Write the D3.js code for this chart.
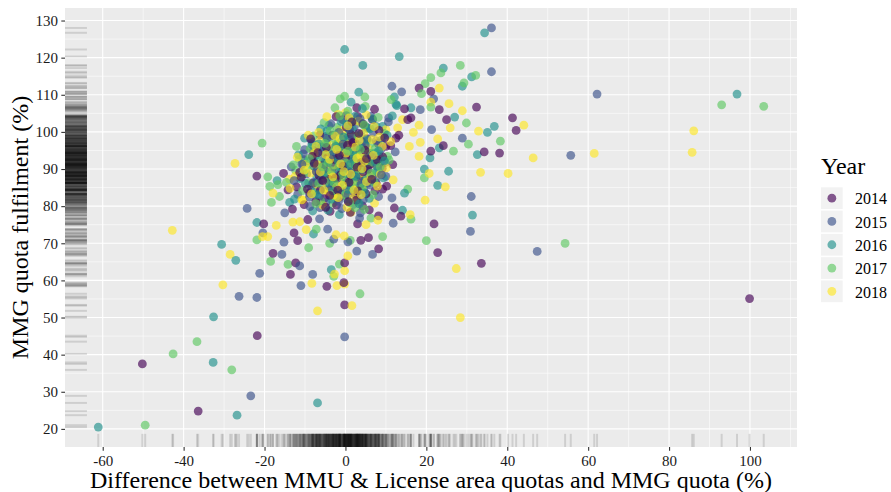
<!DOCTYPE html>
<html><head><meta charset="utf-8">
<script src="https://cdn.jsdelivr.net/npm/d3@7"></script>
<style>body{margin:0;background:#fff} svg{display:block} text{font-family:"Liberation Serif","Times New Roman",serif}</style>
</head><body><svg id="c" width="891" height="492"></svg>
<script>
const years = ["2014","2015","2016","2017","2018"];
const colors = ["#440154","#3B528B","#21908C","#5DC863","#FDE725"];
const xTicks = [-60,-40,-20,0,20,40,60,80,100];
const yTicks = [20,30,40,50,60,70,80,90,100,110,120,130];
const xMinor = [-50,-30,-10,10,30,50,70,90,110];
const yMinor = [25,35,45,55,65,75,85,95,105,115,125];

const pts2014 = [[-50.2,37.5],[-36.4,24.8],[-21.8,45.1],[-21.9,88.1],[-20.2,75.2],[-12.7,72.8],[-11.8,70.7],[-17.9,67.3],[-12.3,64.7],[-13.6,61.6],[-4.6,58.4],[-0.4,59.4],[-0.2,64.7],[-0.2,53.4],[8.2,68.5],[3.8,70.8],[5.7,71.5],[8.2,77.4],[3,75.2],[12.1,79.5],[9.2,84.6],[5.9,79],[-3.8,78.6],[-8.9,83.5],[-14.2,84.4],[-15.3,88.8],[-7.9,95],[2.8,106.5],[3,104.2],[6.7,103.3],[1,100.6],[-0.7,103.3],[8,97],[10,96.1],[12.5,98.3],[11.7,91.2],[1,94.3],[-3.5,87.1],[2.6,88],[7.6,86.2],[18.2,111.8],[21.1,110.9],[23.2,106],[32.4,106.7],[14.6,106.2],[25,103.3],[16.2,103.8],[15.4,103.3],[41.3,103.8],[42.2,100.4],[24.2,96.3],[21.1,94.8],[34.3,94.6],[38.1,94.3],[21.9,75.2],[22.8,67.5],[33.6,64.6],[13.7,77.3],[99.9,55.1],
[-8,86.3],[-5.2,82.1],[-3.1,90.4],[0.3,84.2],[2.1,92.3],[4.2,80.1],[-1.1,96.2],[6.2,94.1],[-6.3,99.2],[3.4,87.3],[-10.2,80.4],[-12.1,85.2],[1.2,78.3],[7.3,84.1],[9.1,90.2],[-4.4,93.1],[-2.2,80.3],[5.3,98.2],[-7.1,89.4],[0.2,101.3],[2.4,83.2],[-9.3,76.4],[11.2,96.3],[-3.3,85.1],[4.4,89.2],[8.3,100.4],[-5.4,91.1],[1.3,88.2],[-1.4,82.4],[3.2,95.4],[6.1,91.3],[-11.3,89.1],[10.2,85.4],[-2.3,104.1],[-6.2,84.3],[0.1,93.2],[13.2,99.1],[-4.1,87.2],[2.2,97.4],[5.1,83.3],[-8.2,93.4],[-13.1,79.2],[7.2,106.1],[1.4,99.3],[-3.2,99.1],[4.3,102.2],[9.2,93.3],[-7.3,81.2],[-1.2,88.4],[3.1,84.1],
[-6.5,88.2],[-2.8,92.6],[0.9,86.4],[3.9,91.7],[-9.4,84.6],[-4.7,95.8],[1.8,97.1],[5.6,89.9],[-1.9,84.3],[-7.7,91.5],[2.7,81.6],[-0.6,90.8],[4.8,95.1],[-3.9,82.9],[7.9,92.4],[-5.6,86.9],[0.5,96.4],[-10.9,87.8],[3.3,99.6],[-2.5,87.6],[6.5,87.2],[-8.6,98.1],[1.6,102.7],[-1.5,93.7],[9.7,98.4],[-4.9,79.7],[2.9,90.5],[-6.8,94.4],[0.7,81.2],[5.2,92.8]];
const pts2015 = [[-24.3,79.4],[-21.2,61.9],[-26.3,55.7],[-21.9,55.4],[-23.4,28.9],[-20.4,72.8],[-15.2,70.3],[-15.7,67],[-11.3,63.9],[-8.1,61.6],[-11,58.6],[-0.2,44.8],[2.8,67.9],[6.7,67],[0.6,70.4],[-2.9,71.1],[-4.4,73.8],[-6.4,76.6],[11.8,75.4],[3.5,76.8],[-15,78.2],[11.5,82.2],[11.5,112.3],[-10.1,95.2],[-10.3,92.5],[-10.5,91.2],[-4.9,94.3],[6.3,104.2],[10.7,103.8],[10,88],[5.5,86.2],[36.1,128],[36.1,116.2],[13.9,110.8],[21.8,108.9],[18.5,106],[21.3,100.6],[28.9,98.3],[31.1,82.6],[30.9,73.2],[47.4,67.8],[62.2,110.2],[55.7,93.7],
[-7.5,84.2],[-4.2,88.5],[-1.8,91.3],[0.7,86.9],[3.4,93.8],[5.8,88.1],[-9.6,88.7],[-3.1,95.6],[1.9,80.4],[-6.3,79.6],[8.7,95.2],[-0.4,98.7],[4.6,84.3],[-11.8,83.2],[2.2,101.4],[-5.4,92.7],[6.9,99.8],[-2.7,83.6],[9.8,91.7],[0.3,90.2],[-8.3,97.4],[3.1,89.6],[-1.2,86.4],[5.2,92.3],[-4.8,81.1],[7.4,87.3],[-13.4,90.6],[1.1,95.1],[10.6,102.7],[-6.9,86.7],[2.8,84.9],[-3.6,102.2],[4.1,97.3],[-0.9,79.3],[8.2,82.6],[-10.4,94.1],[0.2,104.4],[6.1,85.7],[-2.3,89.1],[3.7,78.2],[-5.9,95.9],[12.3,94.6],[-7.8,91.9],[1.5,92.7],[-1.6,99.9],[5.5,101.1],[-4.1,85.3],[7.8,90.8],[-8.9,82.4],[2.6,87.8],
[-5.3,89.9],[-1.3,94.4],[2.4,91.1],[4.9,96.3],[-8.1,86.1],[-3.6,91.6],[0.6,83.1],[6.5,93.6],[-6.4,82.7],[1.7,98.3],[-2.1,87.5],[3.9,86.1],[-10.8,91.3],[-0.3,92.1],[7.6,97.6],[-4.5,98.4],[2.9,95.7],[-7.2,89.3],[5.3,90.4],[-1.7,81.3],[0.9,100.8],[-12.7,86.9],[4.4,81.7],[-3.2,93.8],[8.9,88.4],[-5.9,87.1],[1.3,89.1],[-8.8,79.9],[3.6,103.6],[-0.6,96.7]];
const pts2016 = [[-61.1,20.5],[-23.9,93.9],[-21.9,75.6],[-30.6,69.7],[-27.1,65.4],[-32.6,50.2],[-32.7,37.9],[-26.8,23.7],[-6.9,27],[-3.5,62.9],[-7.9,72.5],[-1.5,77.7],[-13.8,81],[-0.2,122.2],[4.3,117.9],[13.3,120.3],[-16.9,86.9],[-6.6,96.1],[-4.9,98.8],[-4.6,97],[-4.1,101.7],[1.4,108],[3.3,110.7],[12.5,107.4],[12.1,109.4],[9.2,101.5],[7.6,101.5],[4.9,101.5],[1.8,102.6],[8.4,93.4],[4.3,90.7],[-1.5,90.7],[-7.2,86.2],[34.4,126.7],[24.2,117.2],[31.2,114.8],[28.9,112.3],[16.2,106.5],[12.7,107.1],[27,104],[36.8,101.5],[35.1,99.9],[23.2,95.7],[20.9,93],[32.6,93.9],[25.5,89.4],[19.5,90],[22.8,85.6],[31.4,77.6],[14.1,78.9],[14.6,83.5],[96.8,110.2],
[-6.2,90.4],[-3.3,86.1],[-0.8,92.9],[1.6,89.3],[4.3,95.7],[-8.4,85.3],[-4.6,100.3],[2.9,83.2],[-1.9,97.1],[6.4,92.1],[-11.2,87.4],[0.5,81.7],[-5.7,94.6],[3.8,99.4],[-2.4,88.2],[8.9,97.8],[-9.3,92.2],[1.2,86.2],[5.1,90.6],[-7.1,87.9],[-0.3,95.4],[2.3,104.2],[-3.9,91.8],[7.2,94.3],[-12.6,81.9],[0.9,97.9],[4.8,86.8],[-5.1,84.6],[10.3,99.1],[-1.4,84.1],[3.3,91.4],[-8.1,78.7],[6.7,103.5],[-2.9,94.1],[1.8,100.6],[-6.6,96.8],[0.1,88.7],[9.4,87.6],[-4.3,78.9],[2.5,94.9],[-10.1,98.3],[5.9,82.1],[-0.6,90.1],[3.6,85.6],[-7.4,93.6],[11.6,104.3],[-1.1,102.8],[4.2,106.3],[-3.4,81.9],[7.7,89.4],
[-4.9,92.3],[-1.1,89.1],[2.1,92.8],[5.4,97.9],[-7.8,90.8],[-2.7,99.1],[0.8,84.5],[4.1,89.9],[-9.9,86.1],[-0.5,98.6],[3.2,96.3],[-5.4,88.4],[7.4,91.8],[-3.1,84.1],[1.5,94.7],[-6.9,83.1],[6.1,100.9],[-1.8,92.2],[2.6,88.1],[-11.6,93.8],[0.3,102.1],[-4.1,86.4],[8.2,94.9],[-8.3,96.6],[4.7,83.6],[-2.4,96.1],[1.1,91.2],[-6.1,100.8],[3.4,80.6],[9.6,92.2]];
const pts2017 = [[-49.5,21],[-36.7,43.5],[-42.6,40.2],[-28.1,35.9],[-21.9,70.9],[-9.1,68.8],[-18.5,65.1],[-14.2,64.3],[-2.9,61.1],[-1.5,64.4],[3.6,56.4],[1.2,70.8],[9.2,71.8],[-3.9,70],[-7.2,73.8],[6.3,76.8],[-16.3,82.6],[-18.3,81],[-16.7,85.8],[-20.6,97],[-19.2,87.9],[-18.7,85.3],[-12.3,89.6],[-2.6,106.5],[-1.3,108.9],[-0.2,109.6],[4.8,109.4],[4.9,106.9],[11.3,108.7],[10.4,93.4],[7.6,88.9],[2.6,92.5],[-3.1,92.5],[-6,88],[28.4,117.9],[23.6,115.9],[32.2,115.2],[21.1,114.6],[19.7,113],[29.3,113.2],[18.8,110.3],[21.1,106.7],[29.9,102.4],[38.3,97.5],[30.4,96.7],[26.7,94.8],[19.5,87.6],[20,70.7],[16.2,76.5],[15.4,84.6],[54.3,70],[93,107.3],[103.4,106.9],
[-5.8,87.6],[-2.6,93.4],[0.4,89.7],[2.7,96.2],[-7.6,83.4],[4.9,87.4],[-1.3,84.7],[-9.7,90.1],[1.3,93.1],[-4.4,97.8],[6.2,96.9],[-3.1,80.8],[3.1,81.3],[-11.4,92.6],[0.8,99.6],[-6.8,92.3],[8.3,92.6],[-0.2,86.1],[-14.6,86.4],[5.4,100.8],[-2.1,101.2],[2.1,88.4],[-8.7,95.4],[4.4,92.9],[-4.9,89.3],[9.6,99.6],[-0.7,94.3],[1.7,84.6],[-6.1,81.4],[3.9,102.3],[-12.1,96.1],[7.1,86.4],[-3.7,87.1],[0.6,105.6],[-9.1,86.3],[5.6,94.5],[-1.7,90.8],[2.4,79.6],[-5.3,102.5],[10.8,92.4],[-7.9,98.9],[3.5,90.1],[-0.1,82.9],[6.8,83.1],[-4.1,94.9],[1.4,102.9],[-10.6,84.2],[8.1,103.9],[-2.4,97.6],[4.7,79.1],
[-3.5,89.6],[-0.5,97.2],[2.9,93.4],[-6.6,86.2],[4.2,84.9],[-1.6,95.9],[1.9,86.7],[-8.9,92.8],[5.9,91.6],[-4.3,91.7],[0.2,91.6],[-2.3,82.6],[3.1,98.9],[-10.3,88.8],[7.3,95.4],[-5.1,96.9],[1.1,80.9],[-0.9,88.2],[4.6,101.9],[-7.3,80.7],[2.3,91.1],[-3.8,100.3],[6.3,88.9],[-12.9,91.1],[0.6,94.8],[-2.9,86.4],[8.6,90.6],[-5.7,90.6],[3.7,95.3],[-1.4,104.3]];
const pts2018 = [[-27.3,91.5],[-42.8,73.5],[-28.5,67],[-30.3,58.8],[-17.1,74.8],[-20.5,71.8],[-19.2,71.8],[-8.3,59.2],[-2.1,58.6],[-0.2,59],[-2.7,61.7],[-0.2,62.6],[0.6,66.6],[1.6,53.2],[-6.9,51.8],[-2.3,72.3],[-0.3,72],[-9.7,73.7],[-11.3,75.8],[5.1,75],[8,76.2],[7.2,80.8],[1.4,78.4],[-13,75.7],[-17.9,83.5],[-10.5,81.7],[-13.8,87.3],[-8.2,90.9],[0,105.2],[-1.8,104.7],[10,100.6],[12.9,101.1],[-1.5,100.6],[-2.1,96.8],[0,98.3],[5.1,96.6],[11.8,87.1],[0.2,87.1],[1,90.3],[23.2,111.8],[21.1,108],[25.6,107.6],[28.9,105.7],[14.1,103.3],[25.9,101.1],[18.2,101.8],[16.8,99.9],[44.1,101.8],[32.9,100.2],[22.8,98.1],[18.5,97.2],[18.2,93.4],[15.8,96.1],[46.4,93],[33.4,89.1],[40.2,88.8],[20.7,88.8],[24.7,85.2],[19.7,81.6],[16,77.7],[27.4,63.2],[28.4,50],[61.5,94.2],[86.1,100.3],[85.7,94.5],
[-4.7,89.8],[-1.6,87.3],[1.1,94.2],[3.6,88.9],[-7.2,85.9],[-3.4,96.4],[5.7,95.3],[0.2,83.4],[-9.9,91.3],[2.2,98.8],[-5.6,80.2],[7.5,91.1],[-0.9,100.1],[4.1,84.7],[-12.4,88.1],[1.6,91.6],[-6.4,97.6],[9.1,96.1],[-2.8,91.1],[3.2,102.9],[-8.6,88.9],[0.7,96.6],[6.3,88.2],[-4.2,83.9],[11.2,97.4],[-1.9,94.8],[2.9,86.1],[-10.8,81.7],[5.1,104.6],[-3.6,88.4],[0.4,79.7],[-7.7,94.2],[7.9,85.4],[-0.3,91.9],[4.5,99.7],[-5.1,86.6],[1.9,82.1],[-9.2,99.1],[8.6,88.6],[-2.2,85.2],[3.8,93.6],[-6.9,91.1],[0.9,103.8],[-13.7,84.8],[6.6,97.9],[-1.3,98.1],[2.6,90.7],[-4.6,104.1],[10.1,90.3],[-3.0,83.0],
[-3.9,92.6],[-0.7,85.6],[2.4,95.9],[5.2,86.6],[-6.2,89.2],[-2.6,98.9],[1.3,88.6],[4.7,92.1],[-8.4,83.3],[0.1,94.3],[-4.9,93.9],[3.4,97.7],[-1.2,91.4],[6.9,93.7],[-7.3,96.1],[2.1,84.3],[-3.1,87.9],[8.4,98.6],[-10.2,89.7],[0.6,101.6],[-5.4,84.3],[4.1,90.1],[-1.8,82.3],[2.8,92.9],[-6.6,99.9],[7.1,101.4],[-0.4,89.3],[-11.9,93.2],[3.9,83.1],[-2.2,95.3]];

const series = [pts2014, pts2015, pts2016, pts2017, pts2018];

// interleave draw order so years are mixed like the original
const data = [];
const maxLen = d3.max(series, s => s.length);
for (let i = 0; i < maxLen; i++) {
  series.forEach((s, k) => { if (i < s.length) data.push({x: s[i][0], y: s[i][1], k}); });
}

const svg = d3.select("#c");
const P = {l: 65, r: 797, t: 8, b: 447};

const xe = d3.extent(data, d => d.x), ye = d3.extent(data, d => d.y);
const xp = (xe[1] - xe[0]) * 0.05, yp = (ye[1] - ye[0]) * 0.05;
const x = d3.scaleLinear().domain([xe[0] - xp, xe[1] + xp]).range([P.l, P.r]);
const y = d3.scaleLinear().domain([ye[0] - yp, ye[1] + yp]).range([P.b, P.t]);
const color = d3.scaleOrdinal().domain(d3.range(5)).range(colors);

svg.append("rect").attr("x", P.l).attr("y", P.t).attr("width", P.r - P.l).attr("height", P.b - P.t).attr("fill", "#EBEBEB");

const g = svg.append("g");
const inX = v => v >= x.domain()[0] && v <= x.domain()[1];
const inY = v => v >= y.domain()[0] && v <= y.domain()[1];
g.selectAll(".xmin").data(xMinor.filter(inX)).join("line").attr("x1", d => x(d)).attr("x2", d => x(d)).attr("y1", P.t).attr("y2", P.b).attr("stroke", "#fff").attr("stroke-width", 0.55);
g.selectAll(".ymin").data(yMinor.filter(inY)).join("line").attr("y1", d => y(d)).attr("y2", d => y(d)).attr("x1", P.l).attr("x2", P.r).attr("stroke", "#fff").attr("stroke-width", 0.55);
g.selectAll(".xmaj").data(xTicks).join("line").attr("x1", d => x(d)).attr("x2", d => x(d)).attr("y1", P.t).attr("y2", P.b).attr("stroke", "#fff").attr("stroke-width", 1.1);
g.selectAll(".ymaj").data(yTicks).join("line").attr("y1", d => y(d)).attr("y2", d => y(d)).attr("x1", P.l).attr("x2", P.r).attr("stroke", "#fff").attr("stroke-width", 1.1);

// rugs
const rugLenX = (P.r - P.l) * 0.03, rugLenY = (P.b - P.t) * 0.03;
g.append("g").selectAll("line").data(data).join("line")
  .attr("x1", d => x(d.x)).attr("x2", d => x(d.x)).attr("y1", P.b).attr("y2", P.b - rugLenY)
  .attr("stroke", "#000").attr("stroke-opacity", 0.12).attr("stroke-width", 2);
g.append("g").selectAll("line").data(data).join("line")
  .attr("y1", d => y(d.y)).attr("y2", d => y(d.y)).attr("x1", P.l).attr("x2", P.l + rugLenX)
  .attr("stroke", "#000").attr("stroke-opacity", 0.12).attr("stroke-width", 2);

// points
g.append("g").selectAll("circle").data(data).join("circle")
  .attr("cx", d => x(d.x)).attr("cy", d => y(d.y)).attr("r", 4.4)
  .attr("fill", d => color(d.k)).attr("fill-opacity", 0.65);

// axes
const ax = svg.append("g").attr("transform", `translate(0,${P.b})`)
  .call(d3.axisBottom(x).tickValues(xTicks).tickFormat(d => String(d)).tickSize(3.7).tickPadding(5));
const ay = svg.append("g").attr("transform", `translate(${P.l},0)`)
  .call(d3.axisLeft(y).tickValues(yTicks).tickFormat(d => String(d)).tickSize(3.7).tickPadding(3.3));
[ax, ay].forEach(a => {
  a.attr("font-family", '"Liberation Serif", serif').attr("font-size", 15);
  a.select(".domain").remove();
  a.selectAll(".tick line").attr("stroke", "#333").attr("stroke-width", 1.1);
  a.selectAll(".tick text").attr("fill", "#1a1a1a").style("font-size", "15px").style("font-family", '"Liberation Serif", serif');
});

svg.append("text").attr("x", (P.l + P.r) / 2).attr("y", 488).attr("text-anchor", "middle")
  .style("font-size", "24px").attr("fill", "#000").text("Difference between MMU & License area quotas and MMG quota (%)");
svg.append("text").attr("transform", `translate(27.5,${(P.t + P.b) / 2}) rotate(-90)`).attr("text-anchor", "middle")
  .style("font-size", "24px").attr("fill", "#000").text("MMG quota fulfilment (%)");

// legend
const lg = svg.append("g");
lg.append("text").attr("x", 821).attr("y", 173.5).style("font-size", "24px").attr("fill", "#000").text("Year");
const keys = lg.selectAll("g.key").data(years).join("g").attr("transform", (d, i) => `translate(821,${187.3 + i * 23.3})`);
keys.append("rect").attr("width", 21.7).attr("height", 21.7).attr("fill", "#F2F2F2");
keys.append("circle").attr("cx", 10.85).attr("cy", 10.85).attr("r", 4.4).attr("fill", (d, i) => colors[i]).attr("fill-opacity", 0.65);
keys.append("text").attr("x", 34).attr("y", 17).style("font-size", "16px").attr("fill", "#000").text(d => d);
</script></body></html>
